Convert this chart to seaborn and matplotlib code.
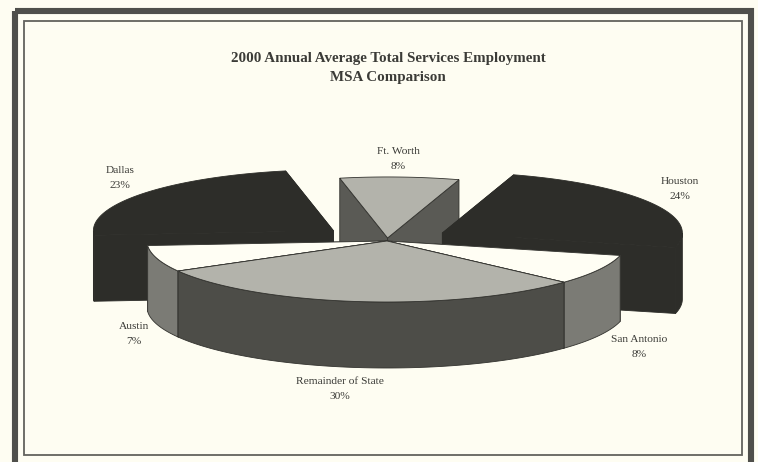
import numpy as np
import matplotlib
matplotlib.use("Agg")
import matplotlib.pyplot as plt
from matplotlib.patches import Rectangle
import seaborn as sns

# ---- data (clockwise order of the pie)
categories = ["Remainder of State", "Austin", "Dallas", "Ft. Worth", "Houston", "San Antonio"]
shares = [30, 7, 23, 8, 24, 8]
explode = [0.0, 0.0, 0.28, 0.05, 0.265, 0.0]
title_lines = "2000 Annual Average Total Services Employment\nMSA Comparison"

# ---- styles
PAPER = "#fefdf2"
INK = "#3b3b37"
top_colors = ["#b3b3ab", "#fffef4", "#2d2d29", "#b3b3ab", "#2d2d29", "#fffef4"]
side_colors = ["#4d4d48", "#7b7b75", "#2d2d29", "#5a5a55", "#2d2d29", "#7b7b75"]
edge_colors = ["#33332f", "#33332f", "#2d2d29", "#33332f", "#2d2d29", "#33332f"]
draw_order = ["Ft. Worth", "Dallas", "Houston", "Austin", "San Antonio", "Remainder of State"]
label_pos = {
    "Dallas": (120, 178), "Ft. Worth": (398, 159), "Houston": (680, 189),
    "Austin": (134, 334), "San Antonio": (639, 347), "Remainder of State": (340, 389),
}

sns.set_style("white")
plt.rcParams["font.family"] = ["Liberation Serif", "DejaVu Serif"]

fig = plt.figure(figsize=(7.58, 4.62), dpi=100, facecolor=PAPER)
ax = fig.add_axes([0, 0, 1, 1])
ax.set_xlim(0, 758)
ax.set_ylim(462, 0)
ax.axis("off")

# ---- frame
ax.add_patch(Rectangle((14.8, 11), 736, 470, fill=False, ec="#4f4f4b", lw=4.4))
ax.add_patch(Rectangle((24, 21), 718, 434, fill=False, ec="#62625d", lw=1.3))

# ---- pie geometry
CX, CY, RX, RY, DEPTH = 387, 241, 240, 61, 66
START = -42.5  # degrees, Remainder of State starts here and runs clockwise


def rim(c, angles):
    a = np.radians(angles)
    return c[0] + RX * np.cos(a), c[1] - RY * np.sin(a)


sweeps = np.array(shares) / sum(shares) * 360
ends = START - np.concatenate([[0], np.cumsum(sweeps)])
wedges = {}
for i, name in enumerate(categories):
    a0, a1 = ends[i], ends[i + 1]
    mid = np.radians((a0 + a1) / 2)
    c = (CX + explode[i] * RX * np.cos(mid), CY - explode[i] * RY * np.sin(mid))
    wedges[name] = (a0, a1, c, top_colors[i], side_colors[i], edge_colors[i])

for z, name in enumerate(draw_order):
    a0, a1, c, top, side, edge = wedges[name]
    kw = dict(edgecolor=edge, linewidth=0.6, zorder=3 + z)
    # cut faces
    for a in (a1, a0):
        px, py = rim(c, np.array([a]))
        ax.fill([c[0], px[0], px[0], c[0]], [c[1], py[0], py[0] + DEPTH, c[1] + DEPTH],
                facecolor=side, **kw)
    # outer wall: the front-facing part of the arc only
    grid = np.linspace(a1, a0, 160)
    front = grid[np.sin(np.radians(grid)) <= 0]
    if front.size > 1:
        x, y = rim(c, front)
        ax.fill(np.r_[x, x[::-1]], np.r_[y, y[::-1] + DEPTH], facecolor=side, **kw)
    # top face
    x, y = rim(c, grid)
    ax.fill(np.r_[c[0], x], np.r_[c[1], y], facecolor=top, **kw)

# ---- text
ax.text(388, 68, title_lines, ha="center", va="center", fontsize=10.8, fontweight="bold",
        color=INK, linespacing=1.68, zorder=20)
for name, share in zip(categories, shares):
    x, y = label_pos[name]
    ax.text(x, y, f"{name}\n{share}%", ha="center", va="center", fontsize=8.2,
            color=INK, linespacing=1.95, zorder=20)

fig.savefig("out.png", dpi=100, facecolor=PAPER)
